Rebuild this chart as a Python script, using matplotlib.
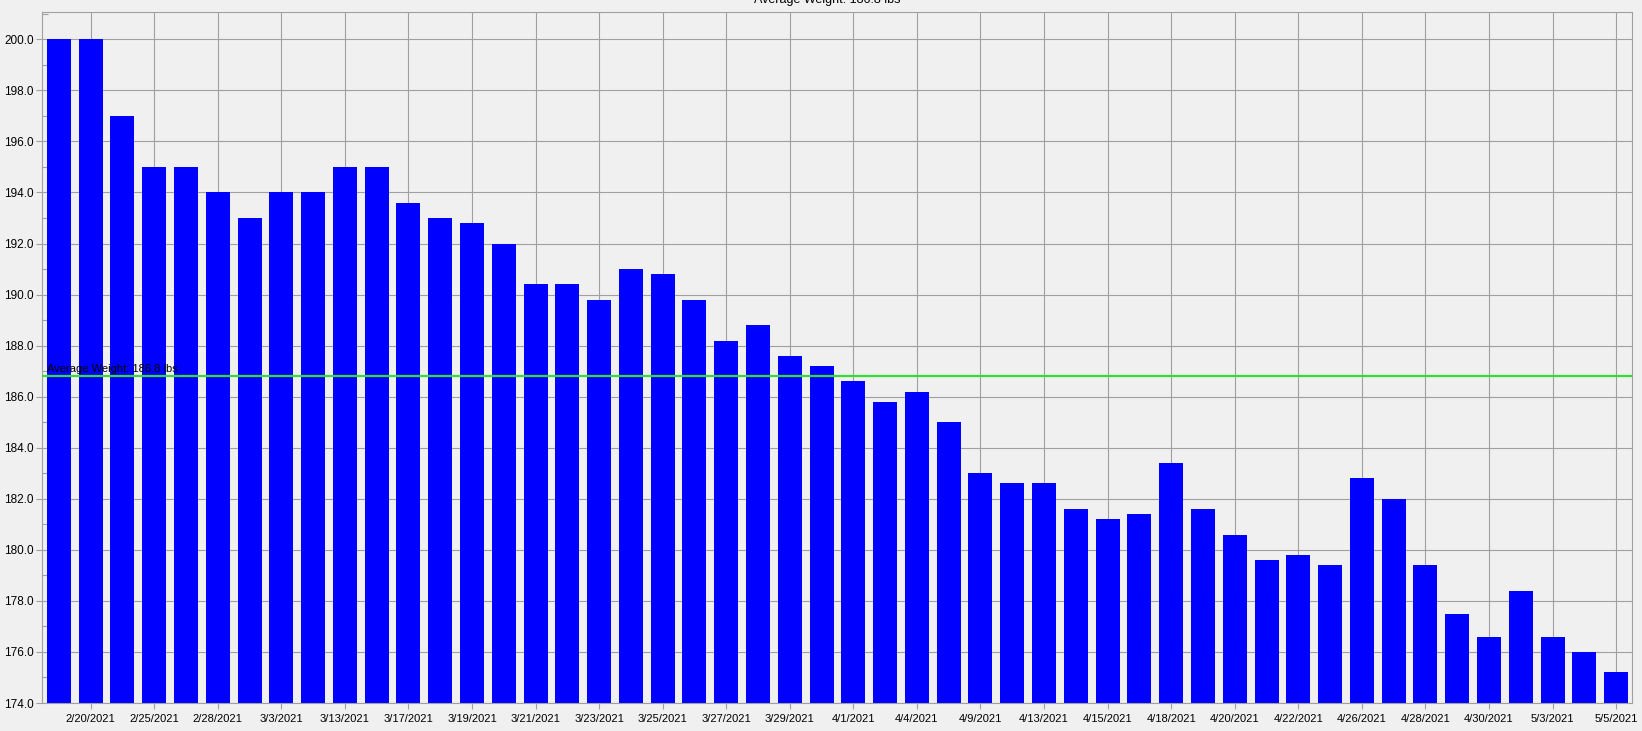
import numpy as np
import matplotlib
matplotlib.use("Agg")
import matplotlib.pyplot as plt
from matplotlib.ticker import MultipleLocator, FixedLocator, FixedFormatter

plt.rcParams["font.family"] = ["Liberation Sans", "DejaVu Sans"]

# weigh-ins, one bar per entry
WEIGHTS = [200.0, 200.0, 197.0, 195.0, 195.0, 194.0, 193.0, 194.0, 194.0, 195.0,
           195.0, 193.6, 193.0, 192.8, 192.0, 190.4, 190.4, 189.8, 191.0, 190.8,
           189.8, 188.2, 188.8, 187.6, 187.2, 186.6, 185.8, 186.2, 185.0, 183.0,
           182.6, 182.6, 181.6, 181.2, 181.4, 183.4, 181.6, 180.6, 179.6, 179.8,
           179.4, 182.8, 182.0, 179.4, 177.5, 176.6, 178.4, 176.6, 176.0, 175.2]
# date labels shown under every second bar (bars 2, 4, 6, ...)
DATE_LABELS = ["2/20/2021", "2/25/2021", "2/28/2021", "3/3/2021", "3/13/2021",
               "3/17/2021", "3/19/2021", "3/21/2021", "3/23/2021", "3/25/2021",
               "3/27/2021", "3/29/2021", "4/1/2021", "4/4/2021", "4/9/2021",
               "4/13/2021", "4/15/2021", "4/18/2021", "4/20/2021", "4/22/2021",
               "4/26/2021", "4/28/2021", "4/30/2021", "5/3/2021", "5/5/2021"]
AVG = 186.8
TITLE = "Average Weight: 186.8 lbs"

BG = "#f0f0f0"; GRID = "#a0a0a0"
W, H = 1642, 731
fig = plt.figure(figsize=(W/100, H/100), dpi=100, facecolor=BG)
ax = fig.add_axes([42/W, (H-703)/H, (1632-42)/W, (703-12)/H], facecolor=BG)

x = np.arange(len(WEIGHTS))
ax.bar(x, WEIGHTS, width=0.755, bottom=0, color="#0000ff", zorder=2)
ax.axhline(AVG, color="#33dd33", lw=1.6, zorder=3)
ax.text(-0.38, AVG+0.1, TITLE, fontsize=8, color="black", ha="left", va="bottom", zorder=4)

ax.set_xlim(-0.53, len(WEIGHTS)-0.5)
ax.set_ylim(174, 201.07)

tick_pos = x[1::2]
ax.xaxis.set_major_locator(FixedLocator(tick_pos))
ax.xaxis.set_major_formatter(FixedFormatter(DATE_LABELS))
ax.yaxis.set_major_locator(MultipleLocator(2))
ax.yaxis.set_minor_locator(MultipleLocator(1))
ax.yaxis.set_major_formatter(matplotlib.ticker.FormatStrFormatter("%.1f"))
ax.tick_params(axis="both", which="major", labelsize=8, length=4, color=GRID, width=0.8, pad=2)
ax.tick_params(axis="y", labelsize=8.5)
ax.tick_params(axis="x", pad=4)
ax.tick_params(axis="y", which="minor", direction="in", length=4, color=GRID, width=0.8)
ax.grid(True, which="major", color=GRID, lw=0.8, zorder=0)
ax.set_axisbelow(True)
for s in ax.spines.values():
    s.set_color(GRID); s.set_linewidth(0.8)

# title sits at the very top edge of the canvas (clipped in the source)
fig.text(827/W, 1-3/H, TITLE, fontsize=9, ha="center", va="baseline")

fig.savefig("out.png", dpi=100, facecolor=BG)
